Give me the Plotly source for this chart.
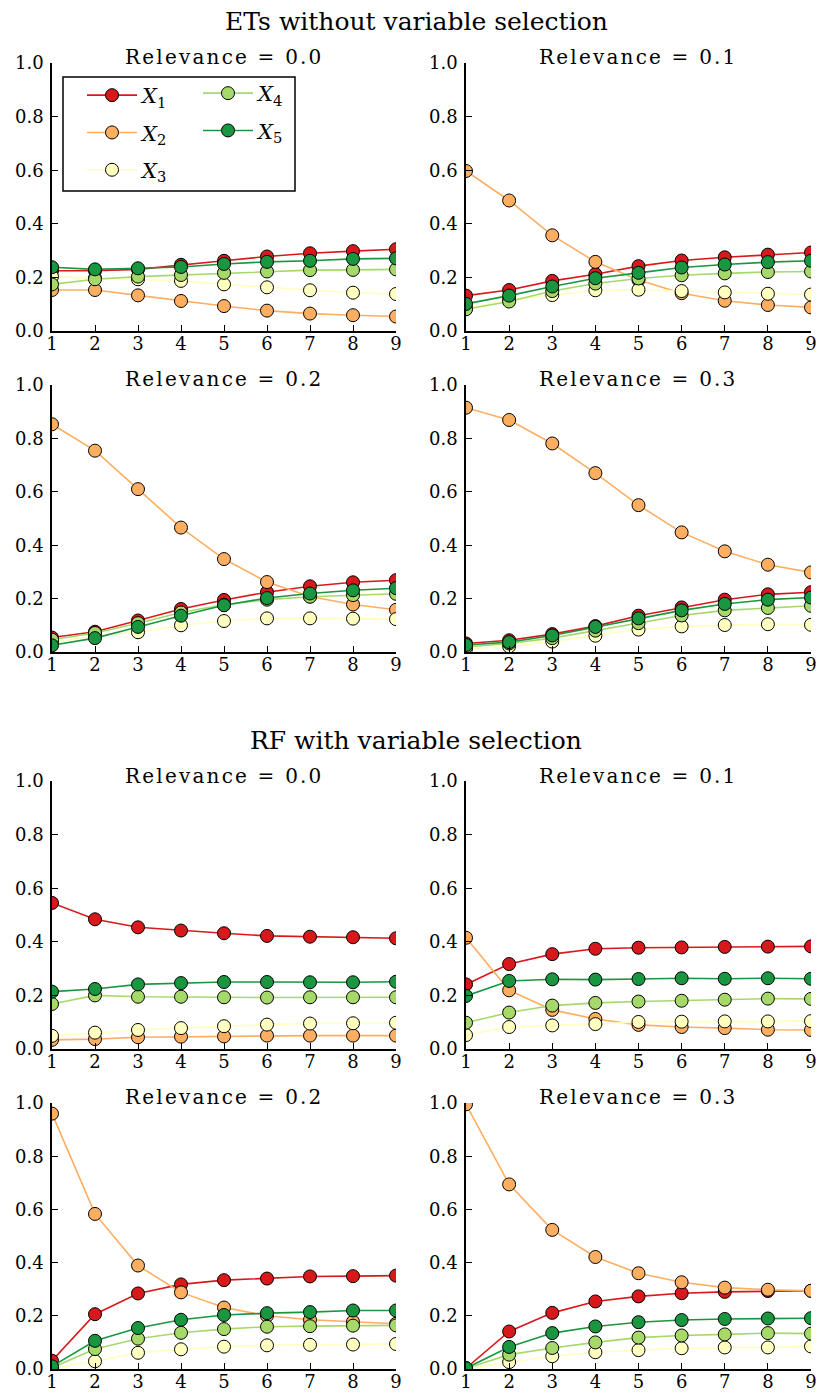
import plotly.graph_objects as go

W, H = 819, 1394
x_vals = [1, 2, 3, 4, 5, 6, 7, 8, 9]
series_names = ["<i>X</i><sub>1</sub>", "<i>X</i><sub>2</sub>", "<i>X</i><sub>3</sub>",
                "<i>X</i><sub>4</sub>", "<i>X</i><sub>5</sub>"]
colors = ["#d7191c", "#fdae61", "#ffffbf", "#a6d96a", "#1a9641"]
panel_titles = ["Relevance = 0.0", "Relevance = 0.1", "Relevance = 0.2", "Relevance = 0.3"]
y_ticks = [0.0, 0.2, 0.4, 0.6, 0.8, 1.0]
group_titles = ["ETs without variable selection", "RF with variable selection"]

# ETs without variable selection
ets_r00 = [
    [0.225, 0.225, 0.230, 0.247, 0.262, 0.278, 0.290, 0.298, 0.305],
    [0.153, 0.153, 0.133, 0.112, 0.093, 0.076, 0.065, 0.059, 0.054],
    [0.203, 0.197, 0.193, 0.187, 0.174, 0.163, 0.152, 0.143, 0.138],
    [0.174, 0.193, 0.203, 0.209, 0.217, 0.222, 0.227, 0.228, 0.230],
    [0.238, 0.230, 0.234, 0.239, 0.250, 0.258, 0.262, 0.269, 0.271],
]
ets_r01 = [
    [0.132, 0.153, 0.187, 0.212, 0.242, 0.263, 0.275, 0.285, 0.293],
    [0.597, 0.487, 0.357, 0.258, 0.190, 0.141, 0.113, 0.097, 0.088],
    [0.085, 0.116, 0.134, 0.152, 0.154, 0.149, 0.144, 0.139, 0.136],
    [0.081, 0.110, 0.149, 0.177, 0.196, 0.208, 0.215, 0.220, 0.222],
    [0.101, 0.132, 0.166, 0.197, 0.217, 0.237, 0.248, 0.257, 0.262],
]
ets_r02 = [
    [0.054, 0.076, 0.118, 0.161, 0.195, 0.224, 0.246, 0.261, 0.269],
    [0.853, 0.754, 0.610, 0.466, 0.348, 0.262, 0.208, 0.178, 0.158],
    [0.036, 0.061, 0.074, 0.100, 0.116, 0.126, 0.126, 0.125, 0.123],
    [0.046, 0.071, 0.108, 0.148, 0.177, 0.196, 0.207, 0.213, 0.218],
    [0.025, 0.052, 0.094, 0.136, 0.175, 0.202, 0.219, 0.231, 0.239],
]
ets_r03 = [
    [0.032, 0.044, 0.067, 0.097, 0.136, 0.167, 0.196, 0.216, 0.224],
    [0.915, 0.869, 0.781, 0.670, 0.550, 0.448, 0.377, 0.327, 0.298],
    [0.011, 0.021, 0.039, 0.061, 0.084, 0.096, 0.101, 0.104, 0.102],
    [0.019, 0.032, 0.052, 0.080, 0.108, 0.137, 0.156, 0.165, 0.173],
    [0.026, 0.037, 0.062, 0.094, 0.126, 0.156, 0.180, 0.196, 0.204],
]
# RF with variable selection
rf_r00 = [
    [0.545, 0.484, 0.454, 0.442, 0.432, 0.422, 0.419, 0.417, 0.413],
    [0.034, 0.037, 0.044, 0.046, 0.047, 0.050, 0.050, 0.050, 0.050],
    [0.049, 0.061, 0.071, 0.078, 0.085, 0.091, 0.095, 0.096, 0.098],
    [0.168, 0.200, 0.195, 0.195, 0.193, 0.192, 0.193, 0.193, 0.193],
    [0.214, 0.224, 0.241, 0.246, 0.250, 0.250, 0.249, 0.249, 0.251],
]
rf_r01 = [
    [0.241, 0.317, 0.354, 0.374, 0.378, 0.379, 0.381, 0.382, 0.383],
    [0.415, 0.219, 0.146, 0.112, 0.090, 0.082, 0.078, 0.072, 0.071],
    [0.052, 0.082, 0.088, 0.093, 0.101, 0.102, 0.103, 0.103, 0.104],
    [0.098, 0.136, 0.162, 0.172, 0.177, 0.180, 0.184, 0.188, 0.187],
    [0.198, 0.254, 0.260, 0.259, 0.261, 0.264, 0.262, 0.264, 0.262],
]
rf_r02 = [
    [0.031, 0.206, 0.284, 0.318, 0.334, 0.340, 0.348, 0.349, 0.351],
    [0.960, 0.583, 0.389, 0.288, 0.231, 0.200, 0.185, 0.178, 0.170],
    [0.002, 0.029, 0.061, 0.074, 0.084, 0.089, 0.091, 0.092, 0.094],
    [0.005, 0.075, 0.114, 0.136, 0.150, 0.159, 0.161, 0.163, 0.164],
    [0.010, 0.106, 0.154, 0.185, 0.203, 0.210, 0.214, 0.220, 0.220],
]
rf_r03 = [
    [0.003, 0.141, 0.211, 0.254, 0.273, 0.285, 0.290, 0.293, 0.294],
    [0.995, 0.694, 0.523, 0.421, 0.360, 0.326, 0.306, 0.298, 0.294],
    [0.002, 0.026, 0.048, 0.063, 0.071, 0.078, 0.081, 0.081, 0.085],
    [0.002, 0.054, 0.079, 0.100, 0.118, 0.126, 0.130, 0.135, 0.133],
    [0.003, 0.083, 0.135, 0.160, 0.176, 0.184, 0.188, 0.190, 0.191],
]

panels = [ets_r00, ets_r01, ets_r02, ets_r03, rf_r00, rf_r01, rf_r02, rf_r03]

# plot-area pixel boxes (left, right) and (top, bottom)
col_px = [(52, 396), (466, 811)]
row_px = [(63, 331), (385, 652), (781, 1049), (1103, 1369)]
title_px = [57, 379, 776, 1097]

FONT = "DejaVu Serif"
fig = go.Figure()
layout_axes = {}
annotations = []

for p, data in enumerate(panels):
    r, c = divmod(p, 2)
    idx = p + 1
    xa = "x" if idx == 1 else f"x{idx}"
    ya = "y" if idx == 1 else f"y{idx}"
    l, rr = col_px[c]
    t, b = row_px[r]
    common = dict(showgrid=False, zeroline=False, showline=True, linecolor="black",
                  linewidth=1.5, ticks="inside", ticklen=6, tickwidth=1.2, tickcolor="black",
                  tickfont=dict(family=FONT, size=18, color="black"), mirror=False,
                  automargin=False, fixedrange=True)
    layout_axes["xaxis" if idx == 1 else f"xaxis{idx}"] = dict(
        domain=[l / W, rr / W], range=[1, 9], tickmode="array", tickvals=x_vals,
        anchor=ya, ticklabelstandoff=-4, **common)
    layout_axes["yaxis" if idx == 1 else f"yaxis{idx}"] = dict(
        domain=[1 - b / H, 1 - t / H], range=[0, 1], tickmode="array", tickvals=y_ticks,
        tickformat=".1f", anchor=xa, ticklabelstandoff=3, **common)
    for s in range(5):
        if p == 0:
            show = True
            leg = "legend" if s < 3 else "legend2"
        else:
            show = False
            leg = "legend"
        fig.add_trace(go.Scatter(
            x=x_vals, y=data[s], mode="lines+markers", name=series_names[s],
            xaxis=xa, yaxis=ya, showlegend=show, legend=leg, legendgroup=f"g{s}",
            line=dict(color=colors[s], width=1.6),
            marker=dict(size=13, color=colors[s], line=dict(color="black", width=1)),
            cliponaxis=True))
    annotations.append(dict(
        text=f'<span style="letter-spacing:2.2px">{panel_titles[p % 4]}</span>',
        x=(l + rr) / 2 / W, y=1 - title_px[r] / H,
        xref="paper", yref="paper", xanchor="center", yanchor="middle",
        showarrow=False, font=dict(family=FONT, size=20, color="black")))

for g, ypx in zip(group_titles, [22, 740]):
    annotations.append(dict(text=g, x=416 / W, y=1 - ypx / H, xref="paper", yref="paper",
                            xanchor="center", yanchor="middle", showarrow=False,
                            font=dict(family=FONT, size=25, color="black")))

leg_common = dict(bgcolor="rgba(0,0,0,0)", borderwidth=0, xanchor="left", yanchor="top",
                  font=dict(family=FONT, size=21, color="black"), tracegroupgap=7,
                  itemsizing="trace", orientation="v", itemwidth=50)

fig.update_layout(
    width=W, height=H, margin=dict(l=0, r=0, t=0, b=0, pad=0),
    paper_bgcolor="white", plot_bgcolor="white",
    annotations=annotations,
    legend=dict(x=82 / W, y=1 - 75 / H, **leg_common),
    legend2=dict(x=198 / W, y=1 - 73 / H, **leg_common),
    shapes=[dict(type="rect", xref="paper", yref="paper", x0=63 / W, x1=295 / W,
                 y0=1 - 191 / H, y1=1 - 77 / H, line=dict(color="black", width=1.5),
                 fillcolor="white", layer="below")],
    **layout_axes,
)

fig.write_html("out.html", config={"displayModeBar": False, "staticPlot": False},
               post_script="document.body.style.margin='0';document.body.style.overflow='hidden';")
